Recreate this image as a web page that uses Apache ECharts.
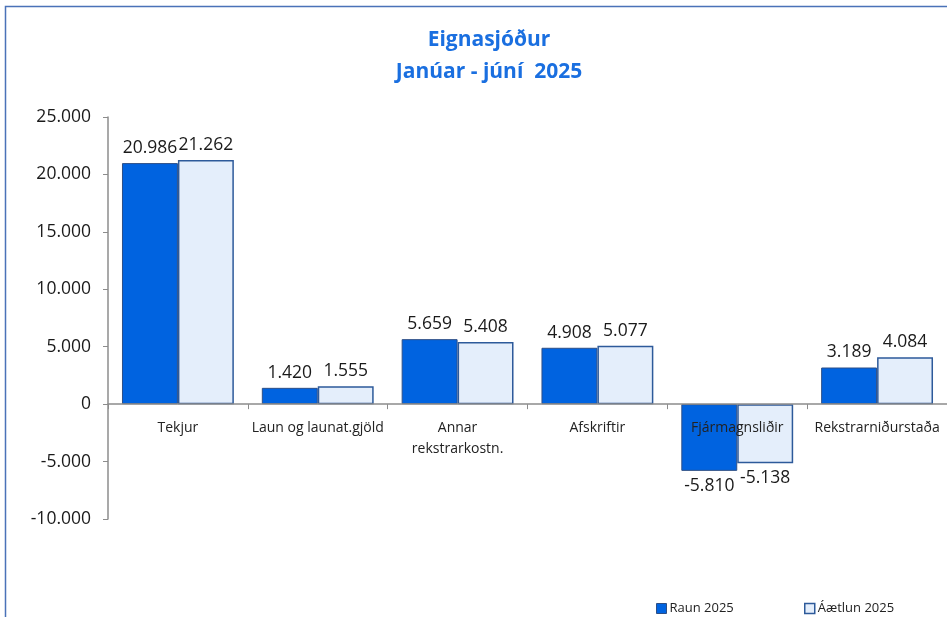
<!DOCTYPE html>
<html><head><meta charset="utf-8">
<script src="https://cdn.jsdelivr.net/npm/echarts@6/dist/echarts.min.js"></script>
<style>html,body{margin:0;padding:0;background:#fff}#c{width:947px;height:617px}</style>
</head><body><div id="c"></div>
<script>
const categories = ['Tekjur', 'Laun og launat.gjöld', 'Annar\nrekstrarkostn.', 'Afskriftir', 'Fjármagnsliðir', 'Rekstrarniðurstaða'];
const raun2025 = [20986, 1420, 5659, 4908, -5810, 3189];
const aaetlun2025 = [21262, 1555, 5408, 5077, -5138, 4084];
const seriesNames = ['Raun 2025', 'Áætlun 2025'];
const titleLines = ['Eignasjóður', 'Janúar - júní  2025'];
const yMin = -10000, yMax = 25000, yStep = 5000;

function fmt(v) {
  const s = Math.abs(v).toString().replace(/\B(?=(\d{3})+(?!\d))/g, '.');
  return (v < 0 ? '-' : '') + s;
}
const FONT = '"Open Sans", "Noto Sans", sans-serif';
const gridTop = 117, gridBottom = 98, H = 617;
const gridH = H - gridTop - gridBottom;
const zeroOffset = -gridH * (0 - yMin) / (yMax - yMin);
const chart = echarts.init(document.getElementById('c'));
function lbl() {
  return {
    show: true, position: 'top', distance: 6,
    formatter: p => fmt(p.value),
    fontFamily: FONT, fontSize: 17.5, color: '#1a1a1a'
  };
}
chart.setOption({
  animation: false,
  graphic: [{
    type: 'rect', shape: { x: 5.5, y: 6.5, width: 1000, height: 700 },
    style: { fill: 'none', stroke: '#4a72b8', lineWidth: 1.5 }, silent: true
  }],
  title: {
    text: titleLines.join('\n'), left: 484, top: 19, textAlign: 'center',
    textStyle: { fontFamily: FONT, fontSize: 21, fontWeight: 'bold', color: '#1a6fe0', lineHeight: 32 }
  },
  legend: [
    { data: [seriesNames[0]], left: 651, top: 597, itemWidth: 10, itemHeight: 10, icon: 'rect', itemGap: 4,
      textStyle: { fontFamily: FONT, fontSize: 13, color: '#222', padding: [0, 0, 0, -2] }, itemStyle: { borderWidth: 1 } },
    { data: [seriesNames[1]], left: 799, top: 597, itemWidth: 10, itemHeight: 10, icon: 'rect',
      textStyle: { fontFamily: FONT, fontSize: 13, color: '#222', padding: [0, 0, 0, -2] }, itemStyle: { borderWidth: 1.5 } }
  ],
  grid: { left: 108, top: gridTop, right: -3, bottom: gridBottom },
  xAxis: {
    type: 'category', data: categories, position: 'bottom', offset: zeroOffset,
    axisLine: { onZero: false, lineStyle: { color: '#8c8c8c', width: 1.5 } },
    axisTick: { show: true, length: 5, lineStyle: { color: '#8c8c8c' } },
    axisLabel: { interval: 0, fontFamily: FONT, fontSize: 14, color: '#222', margin: 13, lineHeight: 21 },
    z: 10
  },
  yAxis: {
    type: 'value', min: yMin, max: yMax, interval: yStep,
    splitLine: { show: false },
    axisLine: { show: true, lineStyle: { color: '#8c8c8c', width: 1.5 } },
    axisTick: { show: true, length: 5, lineStyle: { color: '#8c8c8c' } },
    axisLabel: { formatter: v => fmt(v), fontFamily: FONT, fontSize: 17.5, color: '#1a1a1a', margin: 17 }
  },
  series: [
    { name: seriesNames[0], type: 'bar', data: raun2025.map(v => ({ value: v, label: v < 0 ? { position: 'bottom' } : {} })),
      barGap: '0%', barCategoryGap: '20%',
      itemStyle: { color: '#0063e0', borderColor: '#2d4f86', borderWidth: 1 }, label: lbl() },
    { name: seriesNames[1], type: 'bar', data: aaetlun2025.map(v => ({ value: v, label: v < 0 ? { position: 'bottom' } : {} })),
      itemStyle: { color: '#e4eefb', borderColor: '#2d5a9a', borderWidth: 1.5 }, label: lbl() }
  ]
});
</script></body></html>
